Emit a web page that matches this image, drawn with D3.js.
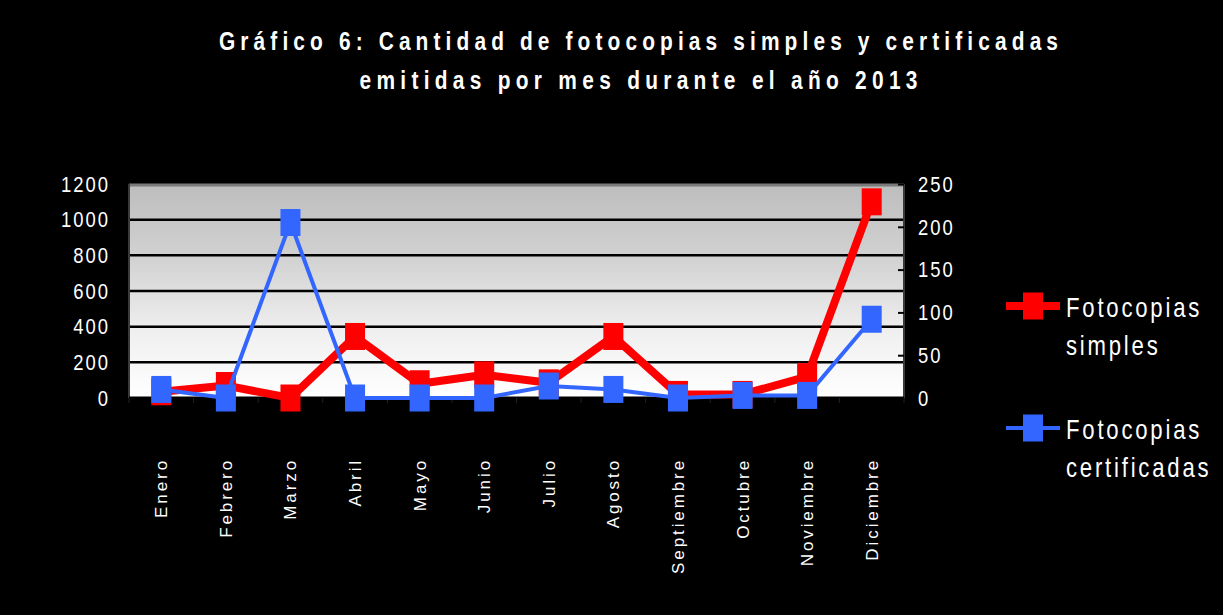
<!DOCTYPE html>
<html>
<head>
<meta charset="utf-8">
<script src="https://cdn.jsdelivr.net/npm/d3@7"></script>
<style>
  body { margin: 0; background: #000; }
  svg { display: block; }
  .narrow { font-family: "Liberation Sans", Arial, sans-serif; fill: #fff; }
</style>
</head>
<body>
<svg id="chart"></svg>
<script>
// Datos
var months = ['Enero', 'Febrero', 'Marzo', 'Abril', 'Mayo', 'Junio', 'Julio',
              'Agosto', 'Septiembre', 'Octubre', 'Noviembre', 'Diciembre'];
var simples = [35, 70, 0, 345, 80, 130, 85, 345, 20, 20, 120, 1100];
var certificadas = [10, 0, 205, 0, 0, 0, 14, 10, 0, 3, 3, 92];
var leftTicks = [0, 200, 400, 600, 800, 1000, 1200];
var rightTicks = [0, 50, 100, 150, 200, 250];
var titleLines = ['Gráfico 6: Cantidad de fotocopias simples y certificadas',
                  'emitidas por mes durante el año 2013'];
var seriesNames = [['Fotocopias', 'simples'], ['Fotocopias', 'certificadas']];

var width = 1223,
    height = 615,
    plotLeft = 129,
    plotRight = 904,
    plotTop = 184,
    plotBottom = 398,
    squeeze = 0.82;   // imita una fuente estrecha

var svg = d3.select('#chart')
  .attr('width', width)
  .attr('height', height);

svg.append('rect')
  .attr('width', width)
  .attr('height', height)
  .attr('fill', '#000');

var x = d3.scalePoint()
  .domain(months)
  .range([plotLeft, plotRight])
  .padding(0.5);

var yLeft = d3.scaleLinear()
  .domain([0, 1200])
  .range([plotBottom, plotTop]);

var yRight = d3.scaleLinear()
  .domain([0, 250])
  .range([plotBottom, plotTop]);

// fondo degradado del area de trazado
var grad = svg.append('defs').append('linearGradient')
  .attr('id', 'plotBg')
  .attr('x1', 0).attr('y1', 0).attr('x2', 0).attr('y2', 1);
grad.append('stop').attr('offset', '0%').attr('stop-color', '#bdbdbd');
grad.append('stop').attr('offset', '35%').attr('stop-color', '#d2d2d2');
grad.append('stop').attr('offset', '70%').attr('stop-color', '#f0f0f0');
grad.append('stop').attr('offset', '100%').attr('stop-color', '#ffffff');

svg.append('rect')
  .attr('x', plotLeft)
  .attr('y', plotTop)
  .attr('width', plotRight - plotLeft)
  .attr('height', plotBottom - plotTop)
  .attr('fill', 'url(#plotBg)');

// lineas de division
svg.selectAll('line.grid')
  .data(leftTicks.filter(function(d) { return d > 0 && d < 1200; }))
  .enter().append('line')
  .attr('class', 'grid')
  .attr('x1', plotLeft)
  .attr('x2', plotRight)
  .attr('y1', function(d) { return yLeft(d); })
  .attr('y2', function(d) { return yLeft(d); })
  .attr('stroke', '#000')
  .attr('stroke-width', 2.5);

svg.append('line')
  .attr('x1', plotLeft).attr('x2', plotRight)
  .attr('y1', plotTop + 1).attr('y2', plotTop + 1)
  .attr('stroke', '#7a7a7a')
  .attr('stroke-width', 3);

svg.append('line')
  .attr('x1', plotLeft).attr('x2', plotLeft)
  .attr('y1', plotTop).attr('y2', plotBottom)
  .attr('stroke', '#3a3a3a')
  .attr('stroke-width', 2);

svg.append('line')
  .attr('x1', plotRight).attr('x2', plotRight)
  .attr('y1', plotTop).attr('y2', plotBottom)
  .attr('stroke', '#3a3a3a')
  .attr('stroke-width', 2);

svg.append('line')
  .attr('x1', plotLeft).attr('x2', plotRight)
  .attr('y1', plotBottom).attr('y2', plotBottom)
  .attr('stroke', '#000')
  .attr('stroke-width', 3);

// marcas entre categorias
svg.selectAll('line.xtick')
  .data(d3.range(months.length + 1))
  .enter().append('line')
  .attr('class', 'xtick')
  .attr('x1', function(i) { return plotLeft + i * x.step(); })
  .attr('x2', function(i) { return plotLeft + i * x.step(); })
  .attr('y1', plotBottom)
  .attr('y2', plotBottom + 5)
  .attr('stroke', '#222')
  .attr('stroke-width', 1);

// ejes
var leftAxis = svg.append('g')
  .attr('transform', 'translate(' + plotLeft + ',0)')
  .call(d3.axisLeft(yLeft).tickValues(leftTicks).tickFormat(d3.format('d'))
    .tickSize(0).tickPadding(19));

var rightAxis = svg.append('g')
  .attr('transform', 'translate(' + plotRight + ',0)')
  .call(d3.axisRight(yRight).tickValues(rightTicks).tickFormat(d3.format('d'))
    .tickSize(-6).tickPadding(14));

[[leftAxis, -19], [rightAxis, 14]].forEach(function(a) {
  var ax = a[0];
  ax.select('.domain').remove();
  ax.selectAll('line').attr('stroke', '#000').attr('stroke-width', 2);
  ax.selectAll('text')
    .attr('class', 'narrow')
    .attr('fill', '#fff')
    .attr('x', a[1] / squeeze)
    .attr('transform', 'scale(' + squeeze + ',1)')
    .style('font-size', '22.5px')
    .style('letter-spacing', '2.4px');
});

svg.selectAll('text.month')
  .data(months)
  .enter().append('text')
  .attr('class', 'month')
  .attr('transform', function(d) { return 'translate(' + (x(d) + 6) + ',458) rotate(-90)'; })
  .attr('text-anchor', 'end')
  .attr('fill', '#fff')
  .style('font-family', '"Liberation Sans", Arial, sans-serif')
  .style('font-size', '17px')
  .style('letter-spacing', '2.9px')
  .text(function(d) { return d; });

// series
function drawSeries(values, scale, color, lineWidth) {
  var line = d3.line()
    .x(function(d, i) { return x(months[i]); })
    .y(function(d) { return scale(d); });

  svg.append('path')
    .datum(values)
    .attr('d', line)
    .attr('fill', 'none')
    .attr('stroke', color)
    .attr('stroke-width', lineWidth)
    .attr('stroke-linejoin', 'miter');

  svg.selectAll(null)
    .data(values)
    .enter().append('rect')
    .attr('x', function(d, i) { return x(months[i]) - 10; })
    .attr('y', function(d) { return scale(d) - 13.5; })
    .attr('width', 20)
    .attr('height', 27)
    .attr('fill', color);
}

drawSeries(simples, yLeft, '#ff0000', 8);
drawSeries(certificadas, yRight, '#3366ff', 4);

// titulo
var titleWidths = [839, 558];
svg.selectAll('text.title')
  .data(titleLines)
  .enter().append('text')
  .attr('class', 'title narrow')
  .attr('transform', function(d, i) {
    return 'translate(638.5,' + (50 + i * 39) + ') scale(' + squeeze + ',1)';
  })
  .attr('text-anchor', 'middle')
  .attr('textLength', function(d, i) { return titleWidths[i] / squeeze; })
  .attr('lengthAdjust', 'spacing')
  .style('font-size', '25.5px')
  .style('font-weight', 'bold')
  .text(function(d) { return d; });

// leyenda
var legendColors = ['#ff0000', '#3366ff'];
var legendWidths = [8, 4];
var legend = svg.selectAll('g.legend')
  .data(seriesNames)
  .enter().append('g')
  .attr('class', 'legend')
  .attr('transform', function(d, i) { return 'translate(1006,' + (306 + i * 122) + ')'; });

legend.append('line')
  .attr('x1', 0).attr('x2', 54)
  .attr('y1', 0).attr('y2', 0)
  .attr('stroke', function(d, i) { return legendColors[i]; })
  .attr('stroke-width', function(d, i) { return legendWidths[i]; });

legend.append('rect')
  .attr('x', 17).attr('y', -13.5)
  .attr('width', 20).attr('height', 27)
  .attr('fill', function(d, i) { return legendColors[i]; });

legend.each(function(d) {
  var g = d3.select(this);
  d.forEach(function(word, j) {
    g.append('text')
      .attr('class', 'narrow')
      .attr('transform', 'translate(60,' + (10.5 + j * 38) + ') scale(' + squeeze + ',1)')
      .style('font-size', '27px')
      .style('letter-spacing', '3.4px')
      .text(word);
  });
});
</script>
</body>
</html>
